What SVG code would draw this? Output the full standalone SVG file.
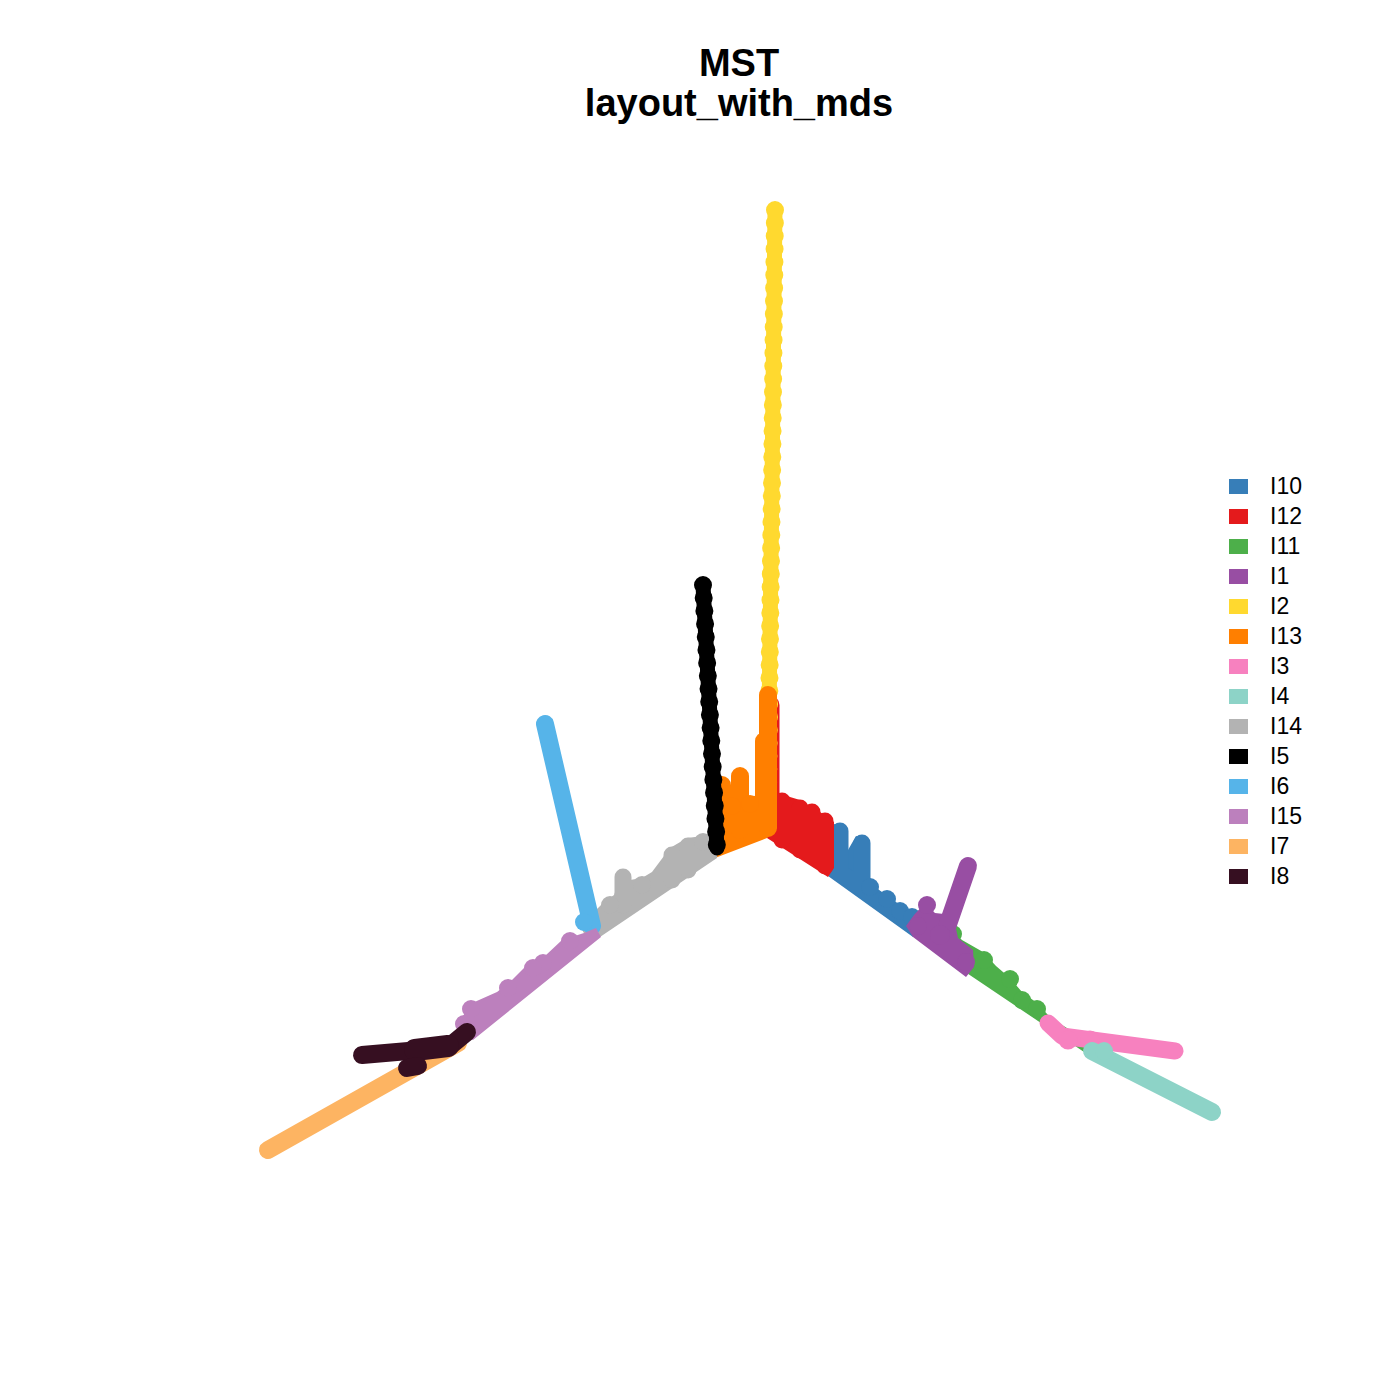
<svg xmlns="http://www.w3.org/2000/svg" width="1400" height="1400" viewBox="0 0 1400 1400">
<style>
.t{font-family:"Liberation Sans",Arial,sans-serif;font-weight:bold;font-size:38px;text-anchor:middle;fill:#000}
.lg{font-family:"Liberation Sans",Arial,sans-serif;font-size:23px;fill:#000}
.ln{fill:none;stroke-width:17;stroke-linecap:round;stroke-linejoin:round}
.bd{fill:none;stroke-width:18;stroke-linecap:round;stroke-dasharray:0 13}
.i10{fill:#377EB8;stroke:#377EB8}
.i12{fill:#E41A1C;stroke:#E41A1C}
.i11{fill:#4DAF4A;stroke:#4DAF4A}
.i1{fill:#984EA3;stroke:#984EA3}
.i2{fill:#FFD92F;stroke:#FFD92F}
.i13{fill:#FF7F00;stroke:#FF7F00}
.i3{fill:#F781BF;stroke:#F781BF}
.i4{fill:#8DD3C7;stroke:#8DD3C7}
.i14{fill:#B3B3B3;stroke:#B3B3B3}
.i5{fill:#000000;stroke:#000000}
.i6{fill:#56B4E9;stroke:#56B4E9}
.i15{fill:#BC80BD;stroke:#BC80BD}
.i7{fill:#FDB462;stroke:#FDB462}
.i8{fill:#360F21;stroke:#360F21}
.ln.i10,.ln.i12,.ln.i11,.ln.i1,.ln.i2,.ln.i13,.ln.i3,.ln.i4,.ln.i14,.ln.i5,.ln.i6,.ln.i15,.ln.i7,.ln.i8{fill:none}
.bd.i2,.bd.i5{fill:none}
.nost{stroke:none}
</style>
<text class="t" x="739" y="76">MST</text>
<text class="t" x="739" y="116">layout_with_mds</text>
<g id="plot">
<g id="I10">
<polygon class="i10 nost" points="828,876 913,937 921,930 918,915 903,908 888,896 872,886 868,876 868,840 856,836 848,850 845,828 834,824 830,866"/>
<path class="ln i10" d="M834,868 L917,928 M840,831 L840,872 M862,843 L862,885"/>
<circle class="i10 nost" cx="870" cy="887" r="9"/>
<circle class="i10 nost" cx="887" cy="899" r="9"/>
<circle class="i10 nost" cx="900" cy="911" r="9"/>
<circle class="i10 nost" cx="912" cy="917" r="9"/>
</g>
<g id="I12">
<path class="ln i12" style="stroke-width:19" d="M770,705 L770,800"/>
<polygon class="i12 nost" points="767,838 828,877 834,868 834,822 820,812 808,806 800,800 790,797 782,793 772,797 770,820"/>
<path class="ln i12" d="M782,801 L782,840 M800,808 L800,850 M812,812 L812,855 M825,821 L825,866"/>
</g>
<g id="I11">
<polygon class="i11 nost" points="940,955 1087,1054 1095,1045 1062,1025 1048,1015 1037,1003 1022,992 1010,978 996,966 983,952 962,940 950,928"/>
<circle class="i11 nost" cx="984" cy="960" r="9"/>
<circle class="i11 nost" cx="1010" cy="979" r="9"/>
<circle class="i11 nost" cx="1022" cy="1000" r="9"/>
<circle class="i11 nost" cx="1037" cy="1009" r="9"/>
<circle class="i11 nost" cx="953" cy="934" r="9"/>
</g>
<g id="I1">
<polygon class="i1 nost" points="913,937 966,977 974,967 973,950 958,938 953,915 935,913 925,903 914,915 906,926"/>
<path class="ln i1" style="stroke-width:18" d="M968,866 L946,930"/>
<circle class="i1 nost" cx="927" cy="905" r="9"/>
<circle class="i1 nost" cx="966" cy="962" r="9"/>
<circle class="i1 nost" cx="918" cy="926" r="9"/>
<circle class="i1 nost" cx="940" cy="935" r="10"/>
</g>
<g id="I2">
<path class="ln i2" style="stroke-width:15" d="M775,210 L772,483 L768,792"/>
<path class="bd i2" d="M775,210 L772,483 L768,792"/>
</g>
<g id="I13">
<polygon class="i13 nost" points="715,858 767,838 777,828 777,790 760,795 748,797 732,800 716,808"/>
<path class="ln i13" style="stroke-width:18" d="M768,695 L768,828 M764,741 L764,800 M740,776 L740,830 M722,785 L722,845"/>
<circle class="i13 nost" cx="732" cy="806" r="9"/>
<circle class="i13 nost" cx="750" cy="804" r="9"/>
</g>
<g id="I3">
<path class="ln i3" d="M1048,1023 L1062,1036 L1175,1051"/>
<circle class="i3 nost" cx="1068" cy="1040" r="9.5"/>
<circle class="i3 nost" cx="1090" cy="1040" r="9.5"/>
</g>
<g id="I4">
<path class="ln i4" style="stroke-width:18" d="M1092,1051 L1212,1112"/>
<circle class="i4 nost" cx="1104" cy="1051" r="9"/>
</g>
<g id="I14">
<polygon class="i14 nost" points="597,939 717,858 718,845 703,836 687,838 670,848 652,872 642,878 630,880 623,869 614,895 603,903 588,918 583,932"/>
<path class="ln i14" d="M623,877 L623,905 M672,855 L672,880 M688,846 L688,870"/>
<circle class="i14 nost" cx="610" cy="905" r="9"/>
<circle class="i14 nost" cx="642" cy="885" r="9"/>
<circle class="i14 nost" cx="703" cy="842" r="9"/>
<circle class="i14 nost" cx="590" cy="926" r="9"/>
</g>
<g id="I5">
<path class="ln i5" style="stroke-width:15" d="M703,585 L717,848"/>
<path class="bd i5" d="M703,585 L717,848"/>
</g>
<g id="I6">
<path class="ln i6" style="stroke-width:18" d="M545,724 L592,926"/>
<circle class="i6 nost" cx="584" cy="922" r="9"/>
</g>
<g id="I15">
<polygon class="i15 nost" points="601,937 596,928 584,933 562,940 545,956 530,962 510,982 497,992 470,1004 462,1018 458,1033 473,1040"/>
<circle class="i15 nost" cx="570" cy="941" r="9"/>
<circle class="i15 nost" cx="543" cy="963" r="9"/>
<circle class="i15 nost" cx="533" cy="968" r="9"/>
<circle class="i15 nost" cx="508" cy="988" r="9"/>
<circle class="i15 nost" cx="471" cy="1009" r="9"/>
<circle class="i15 nost" cx="464" cy="1024" r="9"/>
</g>
<g id="I7">
<path class="ln i7" style="stroke-width:18" d="M268,1150 L458,1043"/>
</g>
<g id="I8">
<path class="ln i8" style="stroke-width:18" d="M362,1055 L420,1050 L450,1046 L467,1032"/>
<path class="ln i8" style="stroke-width:22" d="M415,1050 L448,1046"/>
<path class="ln i8" style="stroke-width:18" d="M407,1068 L418,1066"/>
</g>
</g>
<g id="legend">
<rect class="i10 nost" x="1229" y="479" width="19" height="15"/><text class="lg" x="1270" y="494">I10</text>
<rect class="i12 nost" x="1229" y="509" width="19" height="15"/><text class="lg" x="1270" y="524">I12</text>
<rect class="i11 nost" x="1229" y="539" width="19" height="15"/><text class="lg" x="1270" y="554">I11</text>
<rect class="i1 nost" x="1229" y="569" width="19" height="15"/><text class="lg" x="1270" y="584">I1</text>
<rect class="i2 nost" x="1229" y="599" width="19" height="15"/><text class="lg" x="1270" y="614">I2</text>
<rect class="i13 nost" x="1229" y="629" width="19" height="15"/><text class="lg" x="1270" y="644">I13</text>
<rect class="i3 nost" x="1229" y="659" width="19" height="15"/><text class="lg" x="1270" y="674">I3</text>
<rect class="i4 nost" x="1229" y="689" width="19" height="15"/><text class="lg" x="1270" y="704">I4</text>
<rect class="i14 nost" x="1229" y="719" width="19" height="15"/><text class="lg" x="1270" y="734">I14</text>
<rect class="i5 nost" x="1229" y="749" width="19" height="15"/><text class="lg" x="1270" y="764">I5</text>
<rect class="i6 nost" x="1229" y="779" width="19" height="15"/><text class="lg" x="1270" y="794">I6</text>
<rect class="i15 nost" x="1229" y="809" width="19" height="15"/><text class="lg" x="1270" y="824">I15</text>
<rect class="i7 nost" x="1229" y="839" width="19" height="15"/><text class="lg" x="1270" y="854">I7</text>
<rect class="i8 nost" x="1229" y="869" width="19" height="15"/><text class="lg" x="1270" y="884">I8</text>
</g>
</svg>
